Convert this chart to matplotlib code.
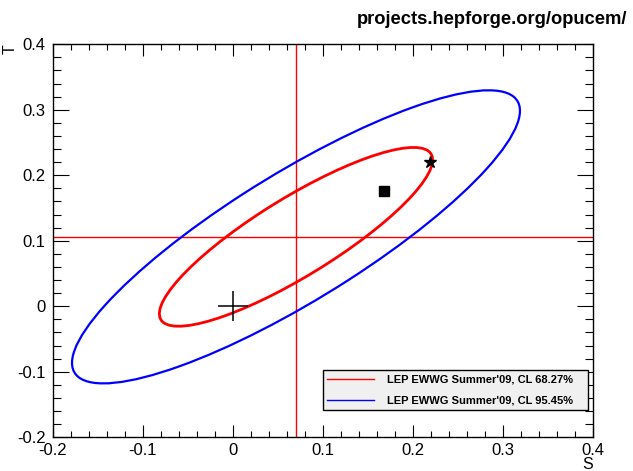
import numpy as np
import matplotlib
matplotlib.use("Agg")
import matplotlib.pyplot as plt
from matplotlib.patches import Ellipse
from matplotlib.lines import Line2D
from matplotlib.ticker import MultipleLocator

plt.rcParams['font.family'] = ['Liberation Sans', 'DejaVu Sans']

# LEP EWWG Summer'09 fit of the oblique parameters
fit_S = 0.07
fit_T = 0.106
sigma_S = 0.100
sigma_T = 0.090
rho_ST = 0.86

# confidence levels and their delta-chi2 for two parameters
cl_labels = ["LEP EWWG Summer'09, CL 68.27%", "LEP EWWG Summer'09, CL 95.45%"]
cl_dchi2 = [2.30, 6.18]
cl_colors = ["#ff0000", "#0000ff"]
cl_widths = [2.0, 1.6]

# model points
sm_point = (0.0, 0.0)
square_point = (0.168, 0.176)
star_point = (0.219, 0.220)

fig = plt.figure(figsize=(6.33, 4.71), dpi=100)
ax = fig.add_axes([0.0833, 0.0716, 0.854, 0.8344])

ax.set_xlim(-0.2, 0.4)
ax.set_ylim(-0.2, 0.4)

# crosshair through the best-fit point
ax.axvline(fit_S, color="#ff0000", lw=1.0, zorder=1)
ax.axhline(fit_T, color="#ff0000", lw=1.0, zorder=1)

cov = np.array([[sigma_S**2, rho_ST * sigma_S * sigma_T],
                [rho_ST * sigma_S * sigma_T, sigma_T**2]])
evals, evecs = np.linalg.eigh(cov)
angle = np.degrees(np.arctan2(evecs[1, 1], evecs[0, 1]))

handles = []
for lab, d2, col, lw in zip(cl_labels, cl_dchi2, cl_colors, cl_widths):
    w = 2 * np.sqrt(d2 * evals[1])
    h = 2 * np.sqrt(d2 * evals[0])
    ax.add_patch(Ellipse((fit_S, fit_T), w, h, angle=angle, fill=False,
                         edgecolor=col, lw=lw, zorder=3))
    handles.append(Line2D([], [], color=col, lw=1.0, label=lab))

ax.plot(*sm_point, marker="+", ms=22, mew=1.1, color="black", zorder=4)
ax.plot(*square_point, marker="s", ms=7, color="black", zorder=4)
ax.plot(*star_point, marker="*", ms=9, color="black", zorder=4)

ax.xaxis.set_major_locator(MultipleLocator(0.1))
ax.xaxis.set_minor_locator(MultipleLocator(0.02))
ax.yaxis.set_major_locator(MultipleLocator(0.1))
ax.yaxis.set_minor_locator(MultipleLocator(0.02))
ax.tick_params(which="both", direction="in", top=True, right=True,
               labelsize=12, width=0.8)
ax.tick_params(axis="x", which="major", length=8.6, pad=4)
ax.tick_params(axis="x", which="minor", length=4.3)
ax.tick_params(axis="y", which="major", length=11.5, pad=5)
ax.tick_params(axis="y", which="minor", length=5.8)

def fmt(v):
    s = f"{v:.1f}"
    return "0" if s in ("0.0", "-0.0") else s

ticks = np.arange(-0.2, 0.41, 0.1)
ax.set_xticks(ticks)
ax.set_xticklabels([fmt(v) for v in ticks])
ax.set_yticks(ticks)
ax.set_yticklabels([fmt(v) for v in ticks])

for sp in ax.spines.values():
    sp.set_linewidth(1.0)

# axis titles placed at the far ends of the axes
fig.text(0.9373, 0.005, "S", ha="right", va="baseline", fontsize=11.5)
fig.text(0.004, 0.906, "T", ha="left", va="top", rotation=90, fontsize=11.5)

fig.text(0.991, 0.95, "projects.hepforge.org/opucem/", ha="right",
         va="baseline", fontsize=13.2, fontweight="bold")

leg = ax.legend(handles=handles, loc="center", mode="expand",
                bbox_to_anchor=(0.5, 0.064, 0.49, 0.112),
                prop={"size": 8, "weight": "bold"}, handlelength=4.2,
                handletextpad=1.2, borderaxespad=0, fancybox=False,
                framealpha=1, labelspacing=1.0)
leg.get_frame().set_facecolor("#f0f0f0")
leg.get_frame().set_edgecolor("black")
leg.get_frame().set_linewidth(1.0)

fig.savefig("out.png", dpi=100)
